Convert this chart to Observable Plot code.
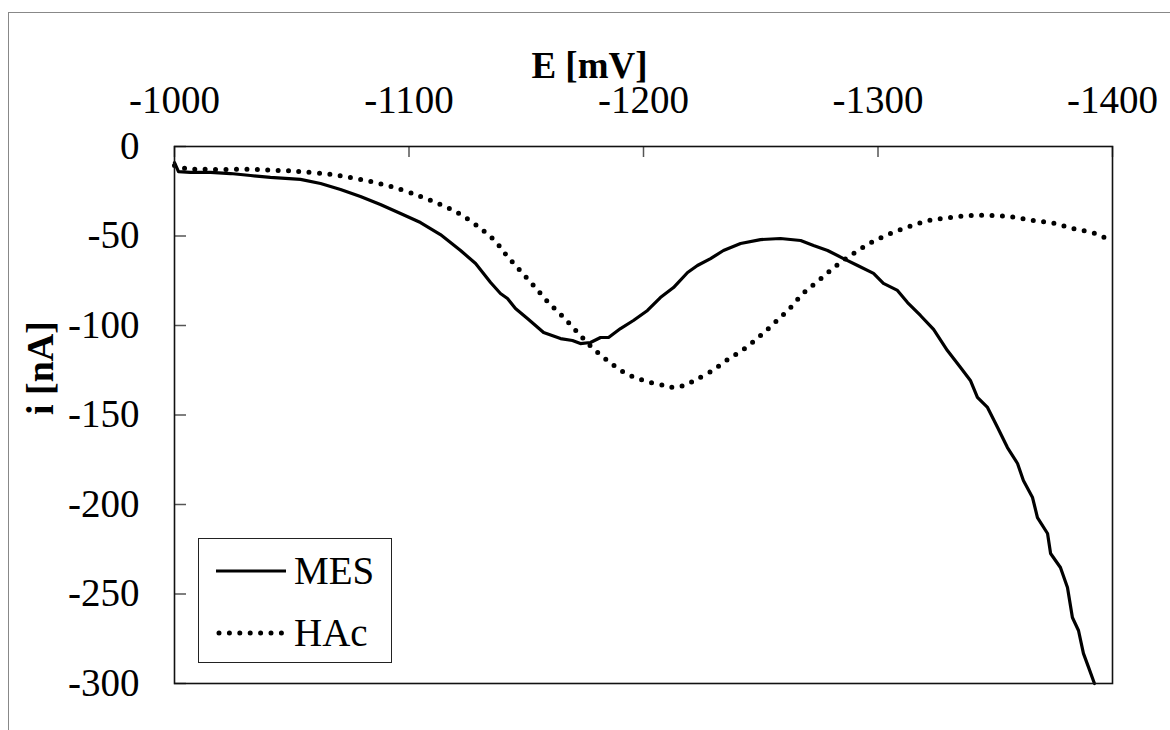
<!DOCTYPE html>
<html>
<head>
<meta charset="utf-8">
<script src="https://cdn.jsdelivr.net/npm/d3@7"></script>
<script src="https://cdn.jsdelivr.net/npm/@observablehq/plot@0.6"></script>
<style>
  html, body { margin: 0; padding: 0; background: #fff; }
  #chart { position: relative; width: 1170px; height: 730px; overflow: hidden;
           font-family: "Liberation Serif", "Times New Roman", serif; }
  #chart svg { position: absolute; left: 0; top: 0; }
  #outline { position: absolute; left: 8px; top: 12px; right: -2px; bottom: -2px;
             border-left: 1.5px solid #888; border-top: 1.5px solid #888; pointer-events: none; }
  #legend { position: absolute; left: 198px; top: 538px; width: 192px; height: 123px;
            border: 1.5px solid #222; background: #fff; }
  .item { position: absolute; left: 17px; display: flex; align-items: center; height: 40px; }
  .item span { font-size: 39px; margin-left: 6px; line-height: 40px; }
</style>
</head>
<body>
<div id="chart">
  <div id="outline"></div>
</div>
<script>
// Potential axis (mV) and current axis (nA) ticks
const xTicks = [-1000, -1100, -1200, -1300, -1400];
const xTickLabels = ["-1000", "-1100", "-1200", "-1300", "-1400"];
const yTicks = [0, -50, -100, -150, -200, -250, -300];
const yTickLabels = ["0", "-50", "-100", "-150", "-200", "-250", "-300"];

const seriesNames = ["MES", "HAc"];

// MES voltammogram
const mesE = [-1000, -1001.7, -1006.8, -1015.4, -1023.9, -1032.4, -1040.9, -1053.7, -1062.3, -1070.8,
  -1079.3, -1087.8, -1096.4, -1104.9, -1113.4, -1122, -1128.4, -1134.8, -1139, -1142,
  -1145.4, -1150.5, -1157.4, -1164.6, -1169.7, -1173.1, -1177.4, -1181.7, -1185.1, -1190.2,
  -1195.7, -1201.7, -1207.2, -1212.8, -1218.8, -1223, -1228.6, -1234.1, -1241.4, -1249.9,
  -1258.4, -1267, -1272.5, -1278.5, -1285.3, -1291.3, -1298.1, -1302.3, -1308.3, -1312.6,
  -1318.1, -1323.7, -1329.6, -1335.2, -1339.4, -1342.4, -1346.7, -1351, -1355.2, -1359.5,
  -1362, -1365.9, -1368, -1372.3, -1373.6, -1377.8, -1380.8, -1382.9, -1385.5, -1387.6,
  -1389.8, -1392.3];
const mesI = [-9, -14, -14.5, -14.5, -15.1, -16.2, -17.3, -18.4, -20.7, -24,
  -27.9, -32.4, -37.4, -42.5, -49.2, -58.1, -65.4, -76, -82.1, -84.9,
  -90.5, -96.1, -103.9, -107.3, -108.4, -110.1, -109.5, -106.7, -106.7, -101.7,
  -97.2, -91.6, -84.4, -78.8, -70.4, -66.5, -62.6, -58.1, -54.2, -52,
  -51.4, -52.5, -55.3, -58.1, -62.6, -66.5, -70.9, -76.5, -80.4, -87.2,
  -94.4, -102.2, -114, -123.5, -130.7, -140.2, -145.8, -157, -168.2, -177.1,
  -186.6, -196.1, -207.3, -216.2, -227.4, -235.2, -246.4, -263.1, -270.4, -283.2,
  -291, -300];

// HAc voltammogram
const hacE = [-1000, -1004.7, -1015.4, -1032.4, -1045.2, -1053.7, -1066.5, -1079.3, -1092.1, -1104.9,
  -1113.4, -1122, -1130.5, -1136.9, -1141.1, -1147.5, -1153.5, -1159.5, -1165.9, -1171.9,
  -1177.8, -1184.6, -1191.9, -1200, -1208.5, -1212.8, -1217.1, -1222, -1229, -1235.4,
  -1242.6, -1249.5, -1255.9, -1262.3, -1268.2, -1275.5, -1282.3, -1289.6, -1297.2, -1305.3,
  -1313.4, -1322, -1330.9, -1339.9, -1348.8, -1357.8, -1366.3, -1375.3, -1383.8, -1392.7,
  -1400];
const hacI = [-10.6, -12.3, -12.8, -12.8, -13.4, -14, -15.6, -18.4, -22.3, -27.9,
  -32.4, -38, -45.8, -53.1, -60, -69.5, -78.2, -87.2, -95.5, -103.9,
  -112, -119.5, -126.3, -130.7, -133.5, -134.6, -133.5, -130.5, -125.5, -119.5,
  -113.4, -106.1, -98.5, -90.5, -82, -74, -66.5, -59.8, -53.6, -48.6,
  -44.7, -41.3, -39.7, -38.5, -38.5, -39.5, -41.3, -43, -46, -48.6,
  -53.1];

const mes = mesE.map((e, k) => ({E: e, i: mesI[k]}));
const hac = hacE.map((e, k) => ({E: e, i: hacI[k]}));

const W = 1170, H = 730;
const mTop = 146, mLeft = 174, mRight = 58, mBottom = 47;
const plotW = W - mLeft - mRight, plotH = H - mTop - mBottom;
const serif = "Liberation Serif, Times New Roman, serif";

const chart = Plot.plot({
  width: W,
  height: H,
  marginTop: mTop,
  marginLeft: mLeft,
  marginRight: mRight,
  marginBottom: mBottom,
  style: {fontFamily: serif, fontSize: "39px", background: "transparent", color: "#000"},
  x: {domain: [-1000, -1400], axis: null},
  y: {domain: [-300, 0], axis: null},
  marks: [
    // inward tick marks
    Plot.tickX(xTicks, {x: d => d, stroke: "#555", strokeWidth: 1.5, insetBottom: plotH - 11}),
    Plot.tickY(yTicks, {y: d => d, stroke: "#555", strokeWidth: 1.5, insetRight: plotW - 12}),
    // tick labels
    Plot.text(xTicks, {x: d => d, text: (d, k) => xTickLabels[k], frameAnchor: "top", lineAnchor: "middle",
      dy: -46, fontSize: 39, fill: "#000"}),
    Plot.text(yTicks, {y: d => d, text: (d, k) => yTickLabels[k], frameAnchor: "left", lineAnchor: "middle",
      dx: -35, textAnchor: "end", fontSize: 39, fill: "#000"}),
    // axis titles
    Plot.text(["E [mV]"], {frameAnchor: "top", lineAnchor: "middle", dx: -54, dy: -80, fontSize: 37,
      fontWeight: "bold", fill: "#000"}),
    Plot.text(["i [nA]"], {frameAnchor: "left", lineAnchor: "middle", dx: -134, rotate: -90, fontSize: 38,
      fontWeight: "bold", fill: "#000"}),
    // series
    Plot.line(hac, {x: "E", y: "i", stroke: "#000", strokeWidth: 5, strokeDasharray: "0 10.4",
      strokeLinecap: "round", curve: "catmull-rom"}),
    Plot.line(mes, {x: "E", y: "i", stroke: "#000", strokeWidth: 3.2, curve: "linear"}),
    Plot.frame({stroke: "#111", strokeWidth: 1.6})
  ]
});

const host = document.getElementById("chart");
host.insertBefore(chart, host.firstChild);

// legend
const legend = document.createElement("div");
legend.id = "legend";
const styles = {
  MES: {dash: null, width: 3.2, cap: "butt"},
  HAc: {dash: "0 10.4", width: 5, cap: "round"}
};
seriesNames.forEach((name, k) => {
  const row = document.createElement("div");
  row.className = "item";
  row.style.top = (12 + k * 62) + "px";
  const s = styles[name];
  const sw = d3.create("svg").attr("width", 72).attr("height", 40);
  sw.append("line")
    .attr("x1", s.dash ? 3 : 0).attr("x2", 70).attr("y1", 20).attr("y2", 20)
    .attr("stroke", "#000").attr("stroke-width", s.width)
    .attr("stroke-linecap", s.cap)
    .attr("stroke-dasharray", s.dash);
  sw.style("position", "static");
  row.appendChild(sw.node());
  const t = document.createElement("span");
  t.textContent = name;
  row.appendChild(t);
  legend.appendChild(row);
});
host.appendChild(legend);
</script>
</body>
</html>
